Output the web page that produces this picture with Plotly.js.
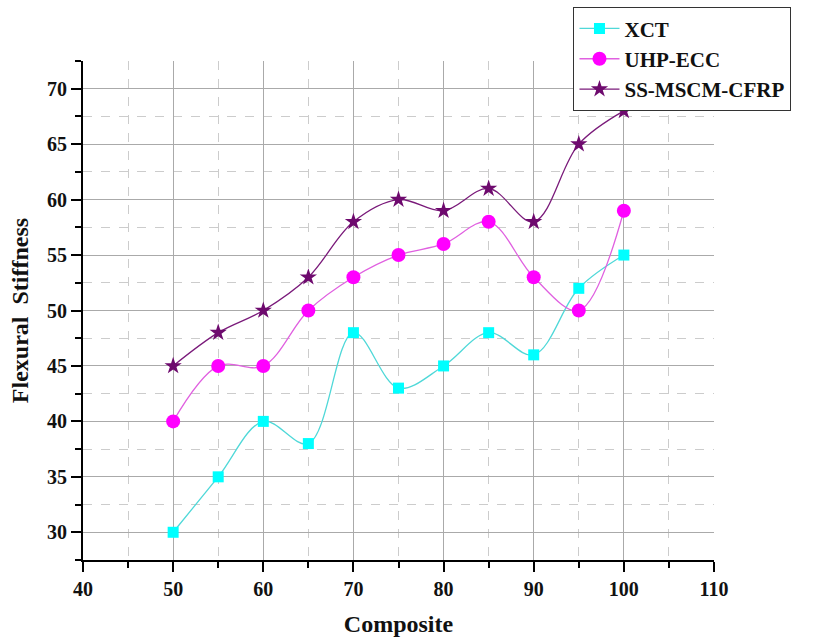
<!DOCTYPE html>
<html><head><meta charset="utf-8">
<script src="https://cdn.plot.ly/plotly-3.0.1.min.js"></script>
<style>body{margin:0;background:#fff}#chart{width:813px;height:639px}</style>
</head><body><div id="chart"></div>
<script>
const composite = [50,55,60,65,70,75,80,85,90,95,100];
const xct = [30,35,40,38,48,43,45,48,46,52,55];
const uhpEcc = [40,45,45,50,53,55,56,58,53,50,59];
const ssMscm = [45,48,50,53,58,60,59,61,58,65,68];
const seriesNames = ['XCT','UHP-ECC','SS-MSCM-CFRP'];

const font = 'Liberation Serif, Times New Roman, serif';
const traces = [
  {x: composite, y: xct, name: seriesNames[0], mode:'lines+markers',
   line:{shape:'spline', smoothing:1, color:'#4fd8d8', width:1.3},
   marker:{symbol:'square', size:11, color:'#00ffff'}},
  {x: composite, y: uhpEcc, name: seriesNames[1], mode:'lines+markers',
   line:{shape:'spline', smoothing:1, color:'#e060e0', width:1.3},
   marker:{symbol:'circle', size:14, color:'#ff00ff'}},
  {x: composite, y: ssMscm, name: seriesNames[2], mode:'lines+markers',
   line:{shape:'spline', smoothing:1, color:'#7a1a7a', width:1.3},
   marker:{symbol:'star', size:13, color:'#6e0a6e'}}
];
const layout = {
  width:813, height:639,
  margin:{l:83, r:99, t:61, b:79, autoexpand:false},
  paper_bgcolor:'#fff', plot_bgcolor:'#fff',
  font:{family:font, color:'#111'},
  showlegend:true,
  legend:{x:0.777, y:1.108, xanchor:'left', yanchor:'top',
    bgcolor:'#fff', bordercolor:'#333', borderwidth:1.2,
    font:{family:font, size:21, weight:'bold', color:'#111'}, tracegroupgap:0, itemwidth:40},
  xaxis:{range:[40,110], dtick:10, tick0:40, showline:true, linecolor:'#000', linewidth:2,
    ticks:'outside', ticklen:10, tickwidth:2, tickcolor:'#000',
    showgrid:true, gridcolor:'#aaa', gridwidth:1, zeroline:false,
    tickfont:{family:font, size:20, weight:'bold', color:'#111'},
    minor:{dtick:5, tick0:45, ticks:'outside', ticklen:6, tickwidth:2, tickcolor:'#000', showgrid:true, gridcolor:'#ccc', griddash:'dash', gridwidth:1},
    title:{text:'Composite', font:{family:font, size:24, weight:'bold', color:'#111'}, standoff:16}},
  yaxis:{range:[27.5,72.5], dtick:5, tick0:30, showline:true, linecolor:'#000', linewidth:2,
    ticks:'outside', ticklen:10, tickwidth:2, tickcolor:'#000',
    showgrid:true, gridcolor:'#aaa', gridwidth:1, zeroline:false,
    tickfont:{family:font, size:20, weight:'bold', color:'#111'},
    minor:{dtick:5, tick0:27.5, ticks:'outside', ticklen:6, tickwidth:2, tickcolor:'#000', showgrid:true, gridcolor:'#ccc', griddash:'dash', gridwidth:1},
    title:{text:'Flexural  Stiffness', font:{family:font, size:24, weight:'bold', color:'#111'}, standoff:12}}
};
Plotly.newPlot('chart', traces, layout, {displayModeBar:false});
</script></body></html>
